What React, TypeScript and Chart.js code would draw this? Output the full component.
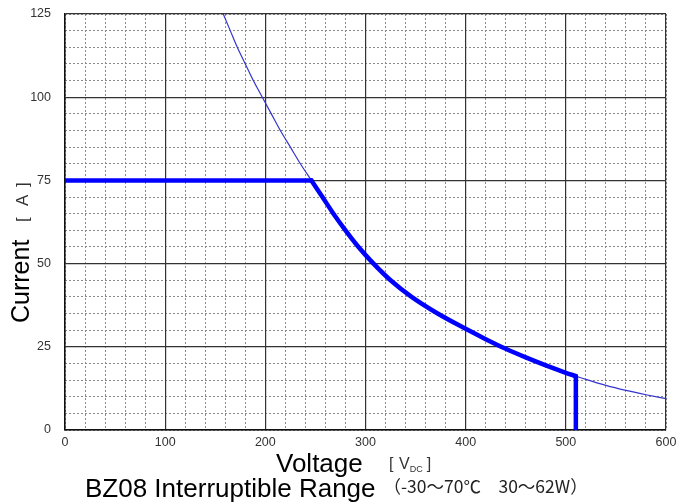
import { useEffect, useRef } from "react";
import { Chart, registerables } from "chart.js";

Chart.register(...registerables);

// Axis ranges / tick steps
const X_MIN = 0;
const X_MAX = 600;
const Y_MIN = 0;
const Y_MAX = 125;
const X_MAJOR_STEP = 100;
const X_MINOR_STEP = 20;
const Y_MAJOR_STEP = 25;
const Y_MINOR_STEP = 5;

// Thin line: full power curve (Voltage [V], Current [A])
const curveV = [158, 165, 172, 180, 188, 197, 206, 215, 225, 235, 246, 257, 268, 280, 293, 308, 325, 346, 372, 400, 420, 440, 460, 480, 500, 510, 520, 540, 560, 580, 600];
const curveI = [125, 120, 115, 110, 105, 100, 95, 90, 85, 80, 75, 70, 65, 60, 55, 50, 45, 40, 35, 30.4, 27.3, 24.4, 21.8, 19.4, 17.2, 16.2, 15.2, 13.4, 11.9, 10.6, 9.4];

// Thick line: interruptible range boundary (flat part, curved part, vertical drop)
const rangeFlatV = [0, 246];
const rangeFlatI = [75, 75];
const rangeCurveV = [246, 257, 268, 280, 293, 308, 325, 346, 372, 400, 420, 440, 460, 480, 500, 510];
const rangeCurveI = [75, 70, 65, 60, 55, 50, 45, 40, 35, 30.4, 27.3, 24.4, 21.8, 19.4, 17.2, 16.2];
const rangeDropV = [510, 510];
const rangeDropI = [16.2, 0];

// Texts
const X_TITLE = "Voltage";
const X_UNIT_OPEN = "[";
const X_UNIT_MAIN = "V";
const X_UNIT_SUB = "DC";
const X_UNIT_CLOSE = "]";
const Y_TITLE = "Current";
const Y_UNIT_OPEN = "[";
const Y_UNIT_MAIN = "A";
const Y_UNIT_CLOSE = "]";
const CHART_TITLE = "BZ08 Interruptible Range";
const CHART_NOTE = "（-30〜70℃　30〜62W）";

const SANS = '"Liberation Sans", Arial, sans-serif';
const CJK = '"Noto Sans CJK JP", "Liberation Sans", sans-serif';

const titlesPlugin = {
  id: "titlesPlugin",
  afterDraw(chart: any) {
    const ctx = chart.ctx as CanvasRenderingContext2D;
    ctx.save();
    ctx.textBaseline = "alphabetic";
    ctx.textAlign = "left";

    // X axis title
    ctx.fillStyle = "#000";
    ctx.font = `26px ${SANS}`;
    const xTitleX = 276;
    const xTitleY = 472;
    ctx.fillText(X_TITLE, xTitleX, xTitleY);
    ctx.fillStyle = "#333";
    ctx.font = `16px ${SANS}`;
    ctx.fillText(X_UNIT_OPEN, 389, xTitleY - 3);
    ctx.fillText(X_UNIT_MAIN, 399, xTitleY - 3);
    let cx = 399 + ctx.measureText(X_UNIT_MAIN).width;
    ctx.font = `9px ${SANS}`;
    ctx.fillText(X_UNIT_SUB, cx, xTitleY);
    cx += ctx.measureText(X_UNIT_SUB).width + 4;
    ctx.font = `16px ${SANS}`;
    ctx.fillText(X_UNIT_CLOSE, cx, xTitleY - 3);

    // Chart title (bottom)
    ctx.fillStyle = "#000";
    ctx.font = `26px ${SANS}`;
    const tX = 85;
    const tY = 497;
    ctx.fillText(CHART_TITLE, tX, tY);
    const nX = tX + ctx.measureText(CHART_TITLE).width + 8;
    ctx.fillStyle = "#222";
    ctx.font = `17.5px ${CJK}`;
    ctx.fillText(CHART_NOTE, nX, tY - 4);

    // Y axis title (rotated)
    ctx.save();
    ctx.translate(29, 323);
    ctx.rotate(-Math.PI / 2);
    ctx.fillStyle = "#000";
    ctx.font = `25px ${SANS}`;
    ctx.fillText(Y_TITLE, 0, 0);
    ctx.fillStyle = "#333";
    ctx.font = `17px ${SANS}`;
    ctx.fillText(Y_UNIT_OPEN, 101, -1);
    ctx.fillText(Y_UNIT_MAIN, 117, -1);
    ctx.fillText(Y_UNIT_CLOSE, 136, -1);
    ctx.restore();

    ctx.restore();
  },
};

const noPadX = (h: number) => (s: any) => {
  s.height = h;
  s.paddingLeft = 0;
  s.paddingRight = 0;
  s.paddingTop = 0;
  s.paddingBottom = 0;
};
const noPadY = (w: number) => (s: any) => {
  s.width = w;
  s.paddingLeft = 0;
  s.paddingRight = 0;
  s.paddingTop = 0;
  s.paddingBottom = 0;
};

export default function App() {
  const canvasRef = useRef<HTMLCanvasElement | null>(null);

  useEffect(() => {
    if (!canvasRef.current) return;
    const toPts = (xs: number[], ys: number[]) => xs.map((v, i) => ({ x: v, y: ys[i] }));
    const thick = {
      showLine: true,
      borderColor: "#0000ff",
      borderWidth: 4.5,
      pointRadius: 0,
      fill: false,
      borderCapStyle: "round",
      borderJoinStyle: "round",
    };

    const chart = new Chart(canvasRef.current, {
      type: "scatter",
      data: {
        datasets: [
          { ...thick, data: toPts(rangeFlatV, rangeFlatI), tension: 0 },
          { ...thick, data: toPts(rangeCurveV, rangeCurveI), cubicInterpolationMode: "monotone" },
          { ...thick, data: toPts(rangeDropV, rangeDropI), tension: 0, borderCapStyle: "butt" },
          {
            data: toPts(curveV, curveI),
            showLine: true,
            borderColor: "#3535cc",
            borderWidth: 1.2,
            pointRadius: 0,
            cubicInterpolationMode: "monotone",
            fill: false,
          },
        ],
      },
      options: {
        animation: false,
        responsive: true,
        maintainAspectRatio: false,
        layout: { padding: { left: 0, right: 11, top: 14, bottom: 0 } },
        plugins: {
          legend: { display: false },
          tooltip: { enabled: false },
        },
        scales: {
          xMinor: {
            type: "linear",
            position: "top",
            min: X_MIN,
            max: X_MAX,
            ticks: { display: false, stepSize: X_MINOR_STEP, autoSkip: false },
            grid: { color: "#8a8a8a", lineWidth: 1, drawTicks: false, z: -1 },
            border: { display: false, dash: [2, 2] },
            afterFit: noPadX(0),
          },
          yMinor: {
            type: "linear",
            position: "right",
            min: Y_MIN,
            max: Y_MAX,
            ticks: { display: false, stepSize: Y_MINOR_STEP, autoSkip: false },
            grid: { color: "#8a8a8a", lineWidth: 1, drawTicks: false, z: -1 },
            border: { display: false, dash: [2, 2] },
            afterFit: noPadY(0),
          },
          x: {
            type: "linear",
            position: "bottom",
            min: X_MIN,
            max: X_MAX,
            ticks: {
              stepSize: X_MAJOR_STEP,
              color: "#333",
              font: { family: SANS, size: 12.5 },
              padding: 5,
            },
            grid: { color: "#333", lineWidth: 1.2, drawTicks: false },
            border: { display: true, color: "#111", width: 1.5 },
            afterFit: noPadX(74),
          },
          y: {
            type: "linear",
            position: "left",
            min: Y_MIN,
            max: Y_MAX,
            ticks: {
              stepSize: Y_MAJOR_STEP,
              color: "#333",
              font: { family: SANS, size: 12.5 },
              padding: 14,
            },
            grid: { color: "#333", lineWidth: 1.2, drawTicks: false },
            border: { display: true, color: "#111", width: 1.5 },
            afterFit: noPadY(65),
          },
        },
      },
      plugins: [titlesPlugin],
    } as any);

    return () => chart.destroy();
  }, []);

  return (
    <div style={{ position: "absolute", left: 0, top: 0, width: 677, height: 504, background: "#fff" }}>
      <canvas ref={canvasRef} />
    </div>
  );
}
